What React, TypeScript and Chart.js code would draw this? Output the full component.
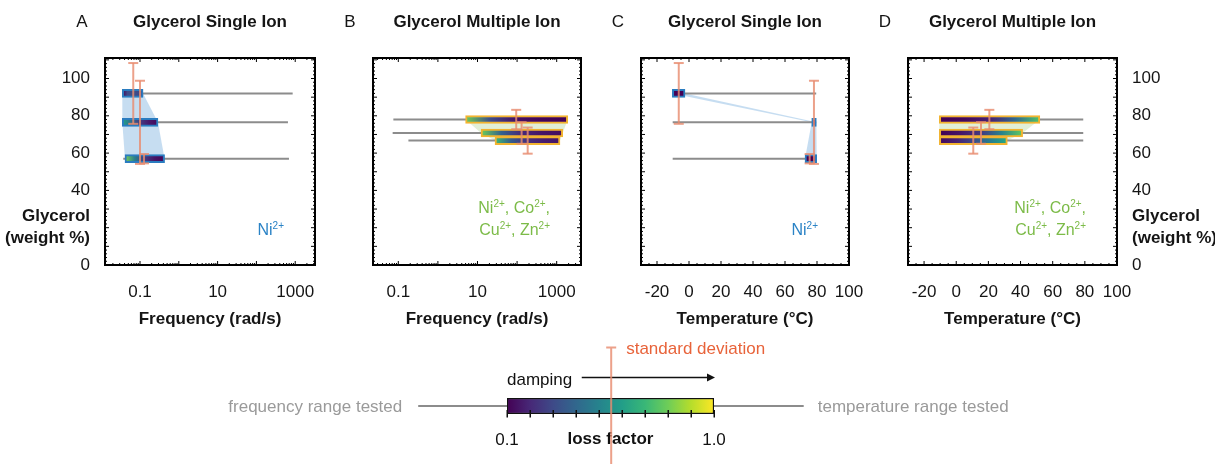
import React, { useEffect, useRef } from 'react';
import { Chart, registerables } from 'chart.js';

Chart.register(...registerables);

const FONT = '"Liberation Sans", Arial, Helvetica, sans-serif';
Chart.defaults.font.family = FONT;
Chart.defaults.font.size = 17;
Chart.defaults.color = '#151515';

// ---------------- DATA ----------------
const yTickValues = [0, 20, 40, 60, 80, 100];
const freqTickValues = [0.1, 10, 1000];
const tempTickValues = [-20, 0, 20, 40, 60, 80, 100];
const lossTickValues = [0.1, 0.2, 0.3, 0.4, 0.5, 0.6, 0.7, 0.8, 0.9, 1.0];

// glycerol weight % of each sample row
const singleGlycerol = [92, 76.5, 57];
const singleSd = [16.3, 22.3, 2.5];
const multiGlycerol = [78, 70.8, 66.7];
const multiSd = [5.2, 5.8, 7];

// A: single ion vs frequency (rad/s)
const aTestedFrom = [0.035, 0.035, 0.037];
const aTestedTo = [860, 650, 690];
const aDampFrom = [0.035, 0.035, 0.041];
const aDampTo = [0.12, 0.29, 0.43];
const aSdAt = [0.067, 0.1, 0.127];
const aLoss = [
  [0.1, 0.3, 0.32, 0.3, 0.28],
  [0.62, 0.42, 0.26, 0.16, 0.12],
  [0.82, 0.48, 0.26, 0.15, 0.11],
];

// B: multiple ion vs frequency (rad/s)
const bTestedFrom = [0.075, 0.072, 0.18];
const bTestedTo = [1900, 1420, 1210];
const bDampFrom = [5.0, 12.3, 27.7];
const bDampTo = [1900, 1420, 1210];
const bSdAt = [95, 130, 185];
const bLoss = [
  [0.8, 0.3, 0.14, 0.11, 0.1],
  [0.8, 0.38, 0.2, 0.15, 0.13],
  [0.72, 0.36, 0.22, 0.17, 0.15],
];

// C: single ion vs temperature (°C)
const cTestedFrom = [-10.2, -10.2, -10.2];
const cTestedTo = [79.5, 79.5, 79.5];
const cDampFrom = [-10.4, 76.7, 72.5];
const cDampTo = [-2.5, 79.6, 79.8];
const cSdAt = [-6.4, 78.1, 75.4];
const cLoss = [
  [0.1, 0.1, 0.1, 0.1, 0.1],
  [0.1, 0.1, 0.1, 0.1, 0.1],
  [0.1, 0.1, 0.1, 0.1, 0.1],
];

// D: multiple ion vs temperature (°C)
const dTestedFrom = [-10.5, -10.5, -10.5];
const dTestedTo = [79, 79, 79];
const dDampFrom = [-10.5, -10.5, -10.5];
const dDampTo = [52, 41.3, 31.8];
const dSdAt = [20.6, 15.4, 10.6];
const dLoss = [
  [0.1, 0.12, 0.18, 0.4, 0.75],
  [0.1, 0.15, 0.25, 0.5, 0.78],
  [0.12, 0.18, 0.3, 0.48, 0.65],
];

// ---------------- STYLE ----------------
const SD_COLOR = 'rgba(232,140,112,0.82)';
const GREY_LINE = '#8c8c8c';
const BLUE_BORDER = '#2a7cc0';
const GOLD_BORDER = '#f2b430';
const BLUE_POLY = 'rgba(120,175,222,0.42)';
const GREEN_POLY = 'rgba(170,210,140,0.35)';
const BLUE_TEXT = '#2b83c6';
const GREEN_TEXT = '#7cbb48';

const VIRIDIS = [
  [68, 1, 84], [72, 36, 117], [65, 68, 135], [53, 95, 141], [42, 120, 142],
  [33, 145, 140], [34, 168, 132], [68, 191, 112], [122, 209, 81], [189, 223, 38], [253, 231, 37],
];
function viridis(lf: number): string {
  const t = Math.min(1, Math.max(0, (lf - 0.1) / 0.9)) * 10;
  const i = Math.min(9, Math.floor(t));
  const f = t - i;
  const a = VIRIDIS[i], b = VIRIDIS[i + 1];
  const c = [0, 1, 2].map((k) => Math.round(a[k] + (b[k] - a[k]) * f));
  return `rgb(${c[0]},${c[1]},${c[2]})`;
}

type Part = [string, boolean];
const SINGLE_ION: Part[][] = [[['Ni', false], ['2+', true]]];
const MULTI_ION: Part[][] = [
  [['Ni', false], ['2+', true], [', Co', false], ['2+', true], [',', false]],
  [['Cu', false], ['2+', true], [', Zn', false], ['2+', true]],
];

interface PanelSpec {
  left: number; width: number; padLeft: number; padRight: number;
  yPos: 'left' | 'right' | null; yWidth: number;
  letter: string; title: string;
  xType: 'logarithmic' | 'linear'; xMin: number; xMax: number; xTicks: number[]; xTitle: string;
  rows: number[]; sd: number[]; sdAt: number[];
  testedFrom: number[]; testedTo: number[];
  dampFrom: number[]; dampTo: number[]; loss: number[][];
  barBorder: string; polyColor: string; ion: Part[][]; ionColor: string;
}

const PANELS: PanelSpec[] = [
  {
    left: 0, width: 330, padLeft: 0, padRight: 15, yPos: 'left', yWidth: 105,
    letter: 'A', title: 'Glycerol Single Ion',
    xType: 'logarithmic', xMin: 0.01253, xMax: 3236, xTicks: freqTickValues, xTitle: 'Frequency (rad/s)',
    rows: singleGlycerol, sd: singleSd, sdAt: aSdAt, testedFrom: aTestedFrom, testedTo: aTestedTo,
    dampFrom: aDampFrom, dampTo: aDampTo, loss: aLoss,
    barBorder: BLUE_BORDER, polyColor: BLUE_POLY, ion: SINGLE_ION, ionColor: BLUE_TEXT,
  },
  {
    left: 330, width: 270, padLeft: 43, padRight: 19, yPos: null, yWidth: 0,
    letter: 'B', title: 'Glycerol Multiple Ion',
    xType: 'logarithmic', xMin: 0.02296, xMax: 4111, xTicks: freqTickValues, xTitle: 'Frequency (rad/s)',
    rows: multiGlycerol, sd: multiSd, sdAt: bSdAt, testedFrom: bTestedFrom, testedTo: bTestedTo,
    dampFrom: bDampFrom, dampTo: bDampTo, loss: bLoss,
    barBorder: GOLD_BORDER, polyColor: GREEN_POLY, ion: MULTI_ION, ionColor: GREEN_TEXT,
  },
  {
    left: 600, width: 270, padLeft: 41, padRight: 21, yPos: null, yWidth: 0,
    letter: 'C', title: 'Glycerol Single Ion',
    xType: 'linear', xMin: -30, xMax: 100, xTicks: tempTickValues, xTitle: 'Temperature (°C)',
    rows: singleGlycerol, sd: singleSd, sdAt: cSdAt, testedFrom: cTestedFrom, testedTo: cTestedTo,
    dampFrom: cDampFrom, dampTo: cDampTo, loss: cLoss,
    barBorder: BLUE_BORDER, polyColor: BLUE_POLY, ion: SINGLE_ION, ionColor: BLUE_TEXT,
  },
  {
    left: 870, width: 345, padLeft: 38, padRight: 0, yPos: 'right', yWidth: 98,
    letter: 'D', title: 'Glycerol Multiple Ion',
    xType: 'linear', xMin: -30, xMax: 100, xTicks: tempTickValues, xTitle: 'Temperature (°C)',
    rows: multiGlycerol, sd: multiSd, sdAt: dSdAt, testedFrom: dTestedFrom, testedTo: dTestedTo,
    dampFrom: dDampFrom, dampTo: dDampTo, loss: dLoss,
    barBorder: GOLD_BORDER, polyColor: GREEN_POLY, ion: MULTI_ION, ionColor: GREEN_TEXT,
  },
];

const PANEL_H = 335;
const AREA_TOP = 58;
const AREA_BOTTOM = 265;

// ---------------- HELPERS ----------------
function frameTickSet(scale: any): { v: number; major: boolean }[] {
  const out: { v: number; major: boolean }[] = [];
  if (scale.type === 'logarithmic') {
    const d0 = Math.floor(Math.log10(scale.min));
    const d1 = Math.ceil(Math.log10(scale.max));
    for (let d = d0; d <= d1; d++) {
      for (let k = 1; k <= 9; k++) {
        const v = k * Math.pow(10, d);
        if (v >= scale.min && v <= scale.max) out.push({ v, major: k === 1 });
      }
    }
  } else {
    const minor = scale.axis === 'x' ? 5 : 2;
    const major = scale.axis === 'x' ? 20 : 10;
    for (let v = Math.ceil(scale.min / minor) * minor; v <= scale.max + 1e-9; v += minor) {
      out.push({ v, major: Math.abs(v / major - Math.round(v / major)) < 1e-6 });
    }
  }
  return out;
}

function drawRich(ctx: CanvasRenderingContext2D, parts: Part[], rightX: number, baseline: number, color: string) {
  const base = `16px ${FONT}`;
  const sup = `10px ${FONT}`;
  let w = 0;
  for (const [t, s] of parts) {
    ctx.font = s ? sup : base;
    w += ctx.measureText(t).width;
  }
  let x = rightX - w;
  ctx.fillStyle = color;
  ctx.textAlign = 'left';
  ctx.textBaseline = 'alphabetic';
  for (const [t, s] of parts) {
    ctx.font = s ? sup : base;
    ctx.fillText(t, x, s ? baseline - 6 : baseline);
    x += ctx.measureText(t).width;
  }
}

function makePanelConfig(p: PanelSpec): any {
  const datasets: any[] = [];
  // standard deviation bars
  p.rows.forEach((y, i) => {
    datasets.push({
      type: 'scatter',
      data: [{ x: p.sdAt[i], y: y - p.sd[i] }, { x: p.sdAt[i], y: y + p.sd[i] }],
      showLine: true,
      borderColor: SD_COLOR,
      borderWidth: 2,
      pointStyle: 'line',
      pointRadius: 5,
      pointHoverRadius: 5,
      pointBorderWidth: 2,
      pointBorderColor: SD_COLOR,
      pointBackgroundColor: SD_COLOR,
    });
  });
  // damping bars coloured by loss factor
  datasets.push({
    type: 'bar',
    indexAxis: 'y',
    data: p.rows.map((y, i) => ({ y, x: [p.dampFrom[i], p.dampTo[i]] })),
    barThickness: 8,
    borderWidth: 2,
    borderColor: p.barBorder,
    borderSkipped: false,
    backgroundColor: (c: any) => {
      const i = c.dataIndex;
      if (c.type !== 'data' || i == null) return viridis(0.1);
      const xs = c.chart.scales.x;
      const stops = p.loss[i];
      if (!xs) return viridis(stops[0]);
      const x0 = xs.getPixelForValue(p.dampFrom[i]);
      const x1 = xs.getPixelForValue(p.dampTo[i]);
      if (!isFinite(x0) || !isFinite(x1) || x1 - x0 < 1) return viridis(stops[0]);
      const g = c.chart.ctx.createLinearGradient(x0, 0, x1, 0);
      stops.forEach((lf, k) => g.addColorStop(k / (stops.length - 1), viridis(lf)));
      return g;
    },
  });
  // tested range lines
  p.rows.forEach((y, i) => {
    datasets.push({
      type: 'scatter',
      data: [{ x: p.testedFrom[i], y }, { x: p.testedTo[i], y }],
      showLine: true,
      borderColor: GREY_LINE,
      borderWidth: 2,
      pointRadius: 0,
    });
  });
  // shaded region joining the bars
  const poly = [
    ...p.rows.map((y, i) => ({ x: p.dampTo[i], y })),
    ...p.rows.map((y, i) => ({ x: p.dampFrom[i], y })).reverse(),
  ];
  datasets.push({
    type: 'scatter',
    data: poly,
    showLine: true,
    fill: 'shape',
    backgroundColor: p.polyColor,
    borderColor: 'rgba(0,0,0,0)',
    borderWidth: 0,
    pointRadius: 0,
  });

  const decor = {
    id: 'panelDecor' + p.letter,
    afterDatasetsDraw(chart: any) {
      const { ctx, chartArea: a, scales } = chart;
      ctx.save();
      // inward ticks
      ctx.strokeStyle = '#000';
      ctx.lineWidth = 1;
      ctx.beginPath();
      for (const t of frameTickSet(scales.x)) {
        const px = scales.x.getPixelForValue(t.v);
        const len = t.major ? 4 : 2;
        ctx.moveTo(px, a.top); ctx.lineTo(px, a.top + len);
        ctx.moveTo(px, a.bottom); ctx.lineTo(px, a.bottom - len);
      }
      for (const t of frameTickSet(scales.y)) {
        const py = scales.y.getPixelForValue(t.v);
        const len = t.major ? 4 : 2;
        ctx.moveTo(a.left, py); ctx.lineTo(a.left + len, py);
        ctx.moveTo(a.right, py); ctx.lineTo(a.right - len, py);
      }
      ctx.stroke();
      ctx.lineWidth = 2;
      ctx.strokeRect(a.left, a.top, a.right - a.left, a.bottom - a.top);
      // letter + title
      ctx.fillStyle = '#151515';
      ctx.textBaseline = 'middle';
      ctx.textAlign = 'center';
      ctx.font = `17px ${FONT}`;
      ctx.fillText(p.letter, a.left - 23, 22);
      ctx.font = `bold 17px ${FONT}`;
      ctx.fillText(p.title, (a.left + a.right) / 2, 22);
      // ion annotation
      const n = p.ion.length;
      p.ion.forEach((parts, k) => {
        drawRich(ctx, parts, a.right - 31, a.bottom - 30 - (n - 1 - k) * 22, p.ionColor);
      });
      ctx.restore();
    },
  };

  const yTickFont = (c: any) =>
    c.tick && c.tick.value === 20
      ? { family: FONT, size: 17, weight: 'bold', lineHeight: 1.3 }
      : { family: FONT, size: 17 };

  return {
    type: 'scatter',
    data: { datasets },
    options: {
      responsive: false,
      animation: false,
      events: [],
      layout: { padding: { left: p.padLeft, right: p.padRight, top: AREA_TOP, bottom: 0 } },
      plugins: { legend: { display: false }, tooltip: { enabled: false }, title: { display: false } },
      scales: {
        x: {
          type: p.xType,
          min: p.xMin,
          max: p.xMax,
          offset: false,
          beginAtZero: false,
          bounds: 'data',
          afterBuildTicks: (s: any) => { s.ticks = p.xTicks.map((v) => ({ value: v })); },
          afterFit: (s: any) => { s.height = PANEL_H - AREA_BOTTOM; },
          grid: { display: true, offset: false, drawOnChartArea: false, drawTicks: true, tickLength: 17, color: 'rgba(0,0,0,0)' },
          border: { display: false },
          ticks: { padding: 0, autoSkip: false, maxRotation: 0, minRotation: 0, color: '#151515', font: { family: FONT, size: 17 }, callback: (v: any) => String(v) },
          title: { display: true, text: p.xTitle, color: '#151515', font: { family: FONT, size: 17, weight: 'bold' }, padding: { top: 0, bottom: 5 } },
        },
        y: {
          type: 'linear',
          min: 0,
          max: 111,
          offset: false,
          beginAtZero: false,
          bounds: 'data',
          display: p.yPos !== null,
          position: p.yPos || 'left',
          afterBuildTicks: (s: any) => { s.ticks = yTickValues.map((v) => ({ value: v })); },
          afterFit: (s: any) => { if (p.yPos) s.width = p.yWidth; },
          grid: { display: false, drawTicks: false, offset: false },
          border: { display: false },
          ticks: {
            padding: 15,
            autoSkip: false,
            color: '#151515',
            font: yTickFont,
            callback: (v: any) => (v === 20 ? ['Glycerol', '(weight %)'] : String(v)),
          },
        },
      },
    },
    plugins: [decor],
  };
}

// ---------------- LEGEND ----------------
const LEGEND = {
  left: 200, top: 335, width: 830, height: 129,
  padLeft: 307, padRight: 316, padTop: 63, axisH: 50,
  testedFrom: -0.286, testedTo: 1.39, arrowFrom: 0.425, sdAt: 0.553,
};

function makeLegendConfig(): any {
  const first = lossTickValues[0];
  const last = lossTickValues[lossTickValues.length - 1];
  const decor = {
    id: 'legendDecor',
    beforeDatasetsDraw(chart: any) {
      const { ctx, chartArea: a, scales } = chart;
      const x = scales.x;
      const midY = (a.top + a.bottom) / 2;
      ctx.save();
      ctx.strokeStyle = GREY_LINE;
      ctx.lineWidth = 2;
      const gl = x.getPixelForValue(LEGEND.testedFrom);
      const gr = x.getPixelForValue(LEGEND.testedTo);
      ctx.beginPath();
      ctx.moveTo(gl, midY); ctx.lineTo(a.left, midY);
      ctx.moveTo(a.right, midY); ctx.lineTo(gr, midY);
      ctx.stroke();
      ctx.font = `17px ${FONT}`;
      ctx.fillStyle = '#9a9a9a';
      ctx.textBaseline = 'middle';
      ctx.textAlign = 'right';
      ctx.fillText('frequency range tested', gl - 16, midY + 1);
      ctx.textAlign = 'left';
      ctx.fillText('temperature range tested', gr + 14, midY + 1);
      // damping arrow
      ctx.fillStyle = '#111';
      ctx.fillText('damping', a.left, a.top - 18);
      const ay = a.top - 20.5;
      const ax0 = x.getPixelForValue(LEGEND.arrowFrom);
      const ax1 = x.getPixelForValue(last) + 1;
      ctx.strokeStyle = '#111';
      ctx.lineWidth = 1.6;
      ctx.beginPath();
      ctx.moveTo(ax0, ay); ctx.lineTo(ax1 - 6, ay);
      ctx.stroke();
      ctx.beginPath();
      ctx.moveTo(ax1, ay); ctx.lineTo(ax1 - 8, ay - 4); ctx.lineTo(ax1 - 8, ay + 4);
      ctx.closePath();
      ctx.fill();
      ctx.restore();
    },
    afterDatasetsDraw(chart: any) {
      const { ctx, chartArea: a, scales } = chart;
      ctx.save();
      ctx.strokeStyle = '#111';
      ctx.lineWidth = 1.5;
      ctx.beginPath();
      for (const v of lossTickValues) {
        const px = Math.round(scales.x.getPixelForValue(v)) + 0.25;
        ctx.moveTo(px, a.bottom - 4);
        ctx.lineTo(px, a.bottom + 3.5);
      }
      ctx.stroke();
      ctx.restore();
    },
    afterDraw(chart: any) {
      const { ctx, chartArea: a, scales } = chart;
      const sx = scales.x.getPixelForValue(LEGEND.sdAt);
      const top = a.top - 50.5;
      ctx.save();
      ctx.strokeStyle = SD_COLOR;
      ctx.lineWidth = 2;
      ctx.beginPath();
      ctx.moveTo(sx, top); ctx.lineTo(sx, chart.height);
      ctx.moveTo(sx - 5, top); ctx.lineTo(sx + 5, top);
      ctx.stroke();
      ctx.fillStyle = '#e8633a';
      ctx.font = `17px ${FONT}`;
      ctx.textAlign = 'left';
      ctx.textBaseline = 'middle';
      ctx.fillText('standard deviation', sx + 15, top + 1.5);
      ctx.restore();
    },
  };
  return {
    type: 'bar',
    data: {
      labels: ['loss factor'],
      datasets: [{
        data: [[first, last]],
        barThickness: 16,
        borderWidth: 1.5,
        borderColor: '#111',
        borderSkipped: false,
        backgroundColor: (c: any) => {
          const xs = c.chart.scales.x;
          if (!xs) return viridis(0.5);
          const x0 = xs.getPixelForValue(first);
          const x1 = xs.getPixelForValue(last);
          if (!isFinite(x0) || !isFinite(x1) || x1 - x0 < 1) return viridis(0.5);
          const g = c.chart.ctx.createLinearGradient(x0, 0, x1, 0);
          lossTickValues.forEach((lf) => g.addColorStop((lf - first) / (last - first), viridis(lf)));
          return g;
        },
      }],
    },
    options: {
      indexAxis: 'y',
      responsive: false,
      animation: false,
      events: [],
      layout: { padding: { left: LEGEND.padLeft, right: LEGEND.padRight, top: LEGEND.padTop, bottom: 0 } },
      plugins: { legend: { display: false }, tooltip: { enabled: false } },
      scales: {
        x: {
          type: 'linear', min: first, max: last, offset: false, beginAtZero: false, bounds: 'data',
          afterBuildTicks: (s: any) => { s.ticks = lossTickValues.map((v) => ({ value: v })); },
          afterFit: (s: any) => { s.height = LEGEND.axisH; },
          grid: { display: false, drawTicks: false },
          border: { display: false },
          ticks: {
            padding: 16, autoSkip: false, maxRotation: 0, color: '#111', font: { family: FONT, size: 17 },
            callback: (v: any, i: number, arr: any[]) => (i === 0 || i === arr.length - 1 ? Number(v).toFixed(1) : ''),
          },
          title: { display: true, text: 'loss factor', color: '#111', font: { family: FONT, size: 17, weight: 'bold' }, padding: { top: 0, bottom: 14 } },
        },
        y: { type: 'category', display: false, grid: { display: false } },
      },
    },
    plugins: [decor],
  };
}

// ---------------- COMPONENTS ----------------
function ChartCanvas(props: { make: () => any; left: number; top: number; width: number; height: number }) {
  const ref = useRef<HTMLCanvasElement | null>(null);
  useEffect(() => {
    const chart = new Chart(ref.current as HTMLCanvasElement, props.make());
    return () => chart.destroy();
  }, []);
  return (
    <canvas
      ref={ref}
      width={props.width}
      height={props.height}
      style={{ position: 'absolute', left: props.left, top: props.top, width: props.width, height: props.height }}
    />
  );
}

export default function App() {
  return (
    <div style={{ position: 'absolute', left: 0, top: 0, width: 1215, height: 464, background: '#fff', overflow: 'hidden' }}>
      {PANELS.map((p) => (
        <ChartCanvas key={p.letter} make={() => makePanelConfig(p)} left={p.left} top={0} width={p.width} height={PANEL_H} />
      ))}
      <ChartCanvas make={makeLegendConfig} left={LEGEND.left} top={LEGEND.top} width={LEGEND.width} height={LEGEND.height} />
    </div>
  );
}
